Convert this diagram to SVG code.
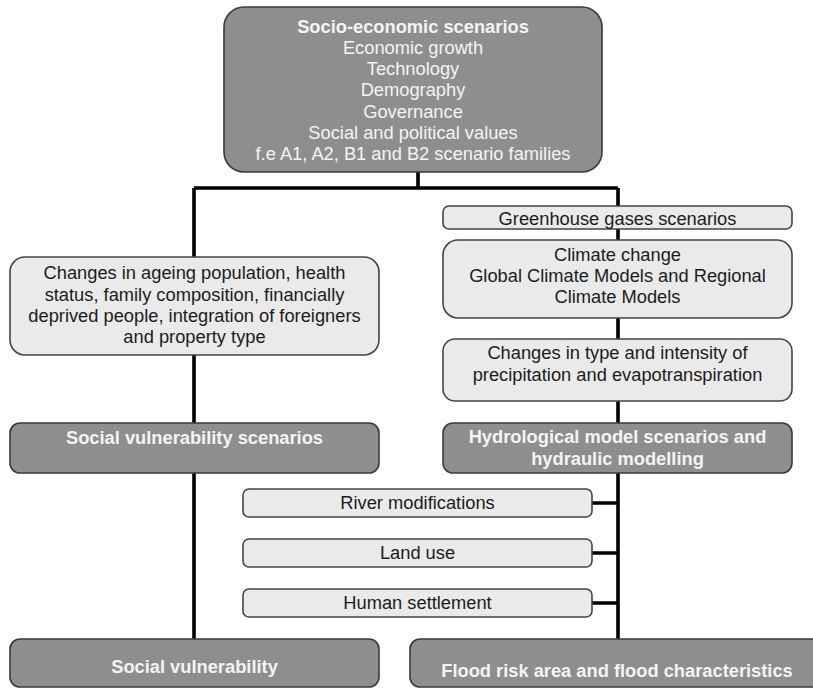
<svg xmlns="http://www.w3.org/2000/svg" width="813" height="688" viewBox="0 0 813 688">
<style>
text{font-family:"Liberation Sans",Arial,sans-serif;font-size:18.3px;text-anchor:middle}
.dark{fill:#8e8e8e;stroke:#3a3a3a;stroke-width:1.6}
.light{fill:#eaeaea;stroke:#444;stroke-width:1.6}
.t{fill:#1c1c1c}
.w{fill:#f4f4f4;font-weight:bold}
.wr{fill:#f4f4f4}
.c{stroke:#000;stroke-width:3.6;fill:none}
</style>
<rect width="813" height="688" fill="#fff"/>
<g id="connectors">
<path class="c" d="M418 172V188M194 188H618M194 188V639M618 188V639M592 503H618M592 553H618M592 603H618"/>
</g>
<g id="socio">
<rect class="dark" x="224" y="7" width="378" height="165" rx="20"/>
<text x="413" y="33" class="w">Socio-economic scenarios</text>
<text x="413" y="54" class="wr">Economic growth</text>
<text x="413" y="75" class="wr">Technology</text>
<text x="413" y="96" class="wr">Demography</text>
<text x="413" y="118" class="wr">Governance</text>
<text x="413" y="139" class="wr">Social and political values</text>
<text x="413" y="160" class="wr">f.e A1, A2, B1 and B2 scenario families</text>
</g>
<g id="changes-social">
<rect class="light" x="10" y="257" width="369" height="98" rx="15"/>
<text x="194.5" y="279" class="t">Changes in ageing population, health</text>
<text x="194.5" y="301" class="t">status, family composition, financially</text>
<text x="194.5" y="322" class="t">deprived people, integration of foreigners</text>
<text x="194.5" y="343" class="t">and property type</text>
</g>
<g id="social-scen">
<rect class="dark" x="10" y="423" width="369" height="50" rx="10"/>
<text x="194.5" y="444" class="w">Social vulnerability scenarios</text>
</g>
<g id="social-vuln">
<rect class="dark" x="10" y="639" width="369" height="48" rx="10"/>
<text x="194.5" y="673" class="w">Social vulnerability</text>
</g>
<g id="ghg">
<rect class="light" x="443" y="206" width="349" height="23" rx="6"/>
<text x="617.5" y="225" class="t">Greenhouse gases scenarios</text>
</g>
<g id="climate">
<rect class="light" x="443" y="240" width="349" height="78" rx="15"/>
<text x="617.5" y="261" class="t">Climate change</text>
<text x="617.5" y="282" class="t">Global Climate Models and Regional</text>
<text x="617.5" y="303" class="t">Climate Models</text>
</g>
<g id="precip">
<rect class="light" x="443" y="339" width="349" height="62" rx="12"/>
<text x="617.5" y="359" class="t">Changes in type and intensity of</text>
<text x="617.5" y="381" class="t">precipitation and evapotranspiration</text>
</g>
<g id="hydro">
<rect class="dark" x="443" y="423" width="349" height="50" rx="10"/>
<text x="617.5" y="443" class="w">Hydrological model scenarios and</text>
<text x="617.5" y="465" class="w">hydraulic modelling</text>
</g>
<g id="river">
<rect class="light" x="243" y="489" width="349" height="28" rx="6"/>
<text x="417.5" y="509" class="t">River modifications</text>
</g>
<g id="landuse">
<rect class="light" x="243" y="539" width="349" height="28" rx="6"/>
<text x="417.5" y="559" class="t">Land use</text>
</g>
<g id="settlement">
<rect class="light" x="243" y="589" width="349" height="28" rx="6"/>
<text x="417.5" y="609" class="t">Human settlement</text>
</g>
<g id="flood">
<rect class="dark" x="410" y="639" width="420" height="48" rx="10"/>
<text x="617" y="677" class="w">Flood risk area and flood characteristics</text>
</g>
</svg>
